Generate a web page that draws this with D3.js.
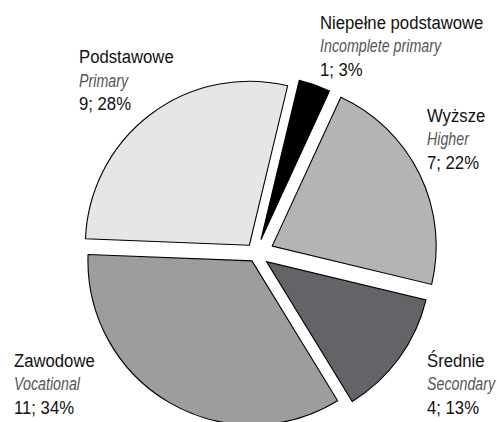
<!DOCTYPE html>
<html>
<head>
<meta charset="utf-8">
<script src="https://cdn.jsdelivr.net/npm/d3@7"></script>
<style>
  body { margin: 0; background: #fff; }
  text { font-family: "Liberation Sans", Arial, sans-serif; }
</style>
</head>
<body>
<div id="chart"></div>
<script>
// data
const labelsPl = ["Niepełne podstawowe", "Wyższe", "Średnie", "Zawodowe", "Podstawowe"];
const labelsEn = ["Incomplete primary", "Higher", "Secondary", "Vocational", "Primary"];
const counts = [1, 7, 4, 11, 9];

// styling / layout
const colors = ["#000000", "#b3b4b6", "#636467", "#9c9d9f", "#e6e6e6"];
const explode = [15, 18, 13, 8, 11];
const labelPos = [[320, 28.5], [427, 121.5], [427, 366.5], [14, 366.5], [79, 63]];

const width = 497;
const height = 422;
const cx = 256, cy = 254, radius = 164;
const lineH = 23.5;

const svg = d3.select("#chart")
    .append("svg")
    .attr("width", width)
    .attr("height", height);

const total = d3.sum(counts);
const items = counts.map((c, i) => ({ i, count: c }));

const pie = d3.pie()
    .value(d => d.count)
    .sort(null)
    .startAngle(13.5 * Math.PI / 180)
    .endAngle(13.5 * Math.PI / 180 + 2 * Math.PI);

const arc = d3.arc().innerRadius(0).outerRadius(radius);

const g = svg.append("g").attr("transform", `translate(${cx},${cy})`);

g.selectAll("path.slice")
    .data(pie(items))
    .enter()
    .append("path")
    .attr("class", "slice")
    .attr("d", arc)
    .attr("transform", d => {
        const mid = (d.startAngle + d.endAngle) / 2;
        const e = explode[d.data.i];
        return `translate(${e * Math.sin(mid)},${-e * Math.cos(mid)})`;
    })
    .attr("fill", d => colors[d.data.i])
    .attr("stroke", "#000")
    .attr("stroke-width", 1.1)
    .attr("stroke-linejoin", "miter");

// three lines per label: polish name, english name (italic), count; percent
const lines = [
    { text: d => labelsPl[d.i], sx: 0.88, fill: "#111", italic: false },
    { text: d => labelsEn[d.i], sx: 0.75, fill: "#555", italic: true },
    { text: d => `${d.count}; ${Math.round(d.count / total * 100)}%`, sx: 0.88, fill: "#111", italic: false }
];

const lab = svg.selectAll("g.lab")
    .data(items)
    .enter()
    .append("g")
    .attr("class", "lab")
    .attr("transform", d => `translate(${labelPos[d.i][0]},${labelPos[d.i][1]})`);

lines.forEach((ln, k) => {
    lab.append("text")
        .attr("transform", `translate(0,${k * lineH}) scale(${ln.sx},1)`)
        .attr("font-size", 19)
        .attr("font-style", ln.italic ? "italic" : "normal")
        .attr("fill", ln.fill)
        .text(ln.text);
});
</script>
</body>
</html>
